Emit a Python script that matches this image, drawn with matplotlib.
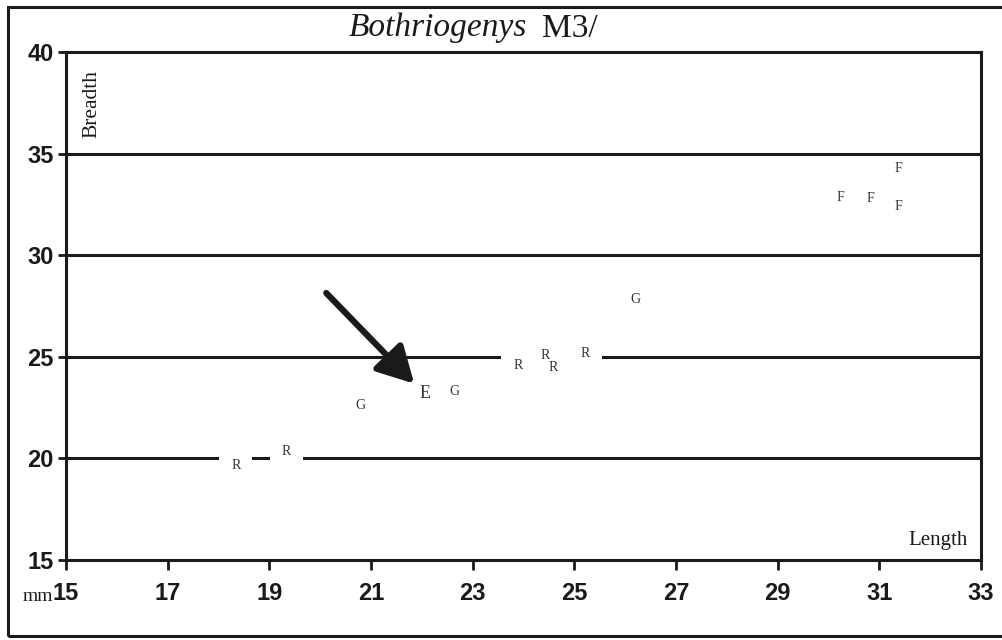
import matplotlib
matplotlib.use("Agg")
import matplotlib.pyplot as plt
from matplotlib.patches import Rectangle

f_length = [31.37, 30.23, 30.82, 31.37]
f_breadth = [34.29, 32.86, 32.81, 32.42]
g_length = [26.21, 22.65, 20.80]
g_breadth = [27.84, 23.27, 22.58]
r_length = [23.89, 24.42, 24.58, 25.21, 18.34, 19.33]
r_breadth = [24.55, 25.04, 24.45, 25.14, 19.63, 20.36]
e_length = [22.06]
e_breadth = [23.17]

xticks = [15, 17, 19, 21, 23, 25, 27, 29, 31, 33]
yticks = [15, 20, 25, 30, 35, 40]

arrow_from = (20.12, 28.14)
arrow_to = (21.85, 23.68)

serif = ["Liberation Serif", "DejaVu Serif"]
narrow = ["Liberation Sans Narrow", "Liberation Sans", "DejaVu Sans"]
ink = "#1a1a1a"

fig = plt.figure(figsize=(10.02, 6.4), dpi=100)
ax = fig.add_axes([66 / 1002, 1 - 560 / 640, (981 - 66) / 1002, (560 - 52) / 640])

# outer frame
fig.patches.append(Rectangle((8 / 1002, 1 - 636 / 640), 1.1, (636 - 7) / 640,
                             transform=fig.transFigure, fill=False,
                             lw=2.2, ec=ink, clip_on=False))

for y in yticks[1:-1]:
    ax.axhline(y, color=ink, lw=2.2, zorder=1)

def put(xs, ys, letter, size=10, pad=0.3):
    for x, y in zip(xs, ys):
        # white knock-out behind the letter, then the letter on top
        ax.text(x, y, letter, ha="center", va="center", fontsize=size,
                family=serif, color=(0, 0, 0, 0), zorder=2,
                bbox=dict(boxstyle="square,pad=%s" % pad, fc="white", ec="none"))
        ax.text(x, y, letter, ha="center", va="center", fontsize=size,
                family=serif, color="#333333", zorder=3)

put(f_length, f_breadth, "F")
put(g_length, g_breadth, "G")
put(r_length, r_breadth, "R", pad=0.85)
put(e_length, e_breadth, "E", size=13)

ax.annotate("", xy=arrow_to, xytext=arrow_from, zorder=4,
            arrowprops=dict(arrowstyle="-|>,head_length=2.2,head_width=1.2",
                            color=ink, lw=4.5, shrinkA=0, shrinkB=0))

ax.set_xlim(15, 33)
ax.set_ylim(15, 40)
ax.set_xticks(xticks)
ax.set_yticks(yticks)
ax.set_xticklabels([str(t) for t in xticks], family=narrow, weight="bold", fontsize=17)
ax.set_yticklabels([str(t) for t in yticks], family=narrow, weight="bold", fontsize=17)
ax.tick_params(direction="out", width=2, color=ink, labelcolor=ink)
ax.tick_params(axis="x", length=7, pad=9)
ax.tick_params(axis="y", length=6, pad=3)
for s in ax.spines.values():
    s.set_linewidth(2.2)
    s.set_color(ink)

ax.text(0.0175, 0.965, "Breadth", transform=ax.transAxes, rotation=90,
        ha="left", va="top", family=serif, fontsize=15.5, color=ink)
ax.text(0.986, 0.039, "Length", transform=ax.transAxes, ha="right",
        va="center", family=serif, fontsize=15, color=ink)
fig.text(53 / 1002, 1 - 601 / 640, "mm", ha="right", va="baseline",
         family=serif, fontsize=14, color=ink)

fig.text(527 / 1002, 1 - 28 / 640, "Bothriogenys", ha="right", va="center",
         family=serif, style="italic", fontsize=24, color=ink)
fig.text(542 / 1002, 1 - 29 / 640, "M3/", ha="left", va="center",
         family=serif, fontsize=24, color=ink)

fig.savefig("out.png", dpi=100)
